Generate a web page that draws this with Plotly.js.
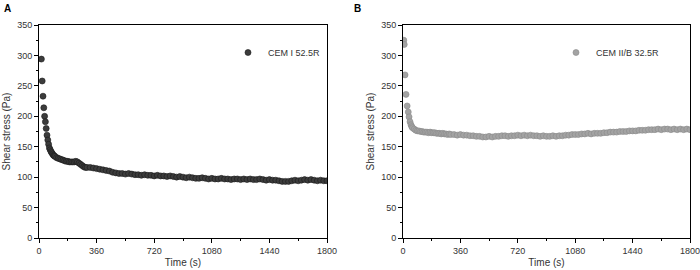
<!DOCTYPE html>
<html>
<head>
<meta charset="utf-8">
<script src="https://cdn.plot.ly/plotly-3.0.1.min.js"></script>
<style>html,body{margin:0;padding:0;background:#fff}#chart{width:700px;height:270px}</style>
</head>
<body>
<div id="chart"></div>
<script>
// ---- data ----
const timeA = [15,20,25,30,35,40,45,50,55,60,65,70,75,80,85,90,95,100,
  110,120,130,140,150,160,170,180,190,200,210,220,230,240,250,260,270,280,290,
  300,320,340,360,380,400,420,440,460,480,500,520,540,560,580,600,620,640,660,680,
  700,720,740,760,780,800,820,840,860,880,900,920,940,960,980,1000,1020,1040,1060,1080,
  1100,1120,1140,1160,1180,1200,1220,1240,1260,1280,1300,1320,1340,1360,1380,1400,
  1420,1440,1460,1480,1500,1520,1540,1560,1580,1600,1620,1640,1660,1680,1700,1720,
  1740,1760,1780,1800];
const stressA = [294,258,233,214,200,191,180,169,161,154,148,145,142,140,138,136,135,134,
  132,131,130,129,128,127,126,126,125,125,125,125,126,125,123,121,119,117,116,
  116,116,115,114,113,112,111,110,108,107,106,106,105,106,105,104,104,103,104,103,
  103,102,103,102,102,101,102,101,100,101,100,99,100,99,98,98,99,98,97,98,
  97,97,98,97,97,96,97,97,96,97,96,97,96,96,97,96,
  95,96,95,95,94,93,93,93,94,95,94,95,96,95,96,95,
  94,95,94,94];

const timeB = [5,8,13,19,26,33,38,44,50,55,60,70,80,90,100,110,120,130,140,150,160,170,180,190,200,
  210,220,230,240,250,260,270,280,290,300,320,340,360,380,400,420,440,460,480,500,520,540,560,580,
  600,620,640,660,680,700,720,740,760,780,800,820,840,860,880,900,920,940,960,980,1000,
  1020,1040,1060,1080,1100,1120,1140,1160,1180,1200,1220,1240,1260,1280,1300,1320,1340,1360,1380,1400,
  1420,1440,1460,1480,1500,1520,1540,1560,1580,1600,1620,1640,1660,1680,1700,1720,1740,1760,1780,1800];
const stressB = [325,318,268,236,217,207,199,191,186,183,181,179,177,176,176,175,175,174,174,174,173,174,173,173,173,
  172,172,172,171,172,171,171,170,171,170,170,169,170,169,169,168,168,167,167,166,166,167,166,167,
  167,168,168,167,168,168,169,168,169,168,169,168,168,167,168,167,167,168,167,168,168,
  169,169,170,170,170,171,171,172,171,172,172,172,173,173,174,174,174,175,175,175,
  176,176,176,177,177,177,178,178,178,179,178,179,179,178,179,178,179,178,179,178];

const xTicks = [0,360,720,1080,1440,1800];
const yTicks = [0,50,100,150,200,250,300,350];
const nameA = 'CEM I 52.5R';
const nameB = 'CEM II/B 32.5R';

// ---- chart ----
const font = {family: 'Liberation Sans, Arial, sans-serif', size: 9, color: '#333'};
function xax(domain, anchor) {
  return {domain: domain, anchor: anchor, range: [0, 1800], tickvals: xTicks,
    ticks: 'outside', ticklen: 4, tickwidth: 1, tickcolor: '#000',
    ticklabeloverflow: 'allow',
    minor: {dtick: 180, ticks: 'outside', ticklen: 2, tickcolor: '#000', showgrid: false},
    showline: true, linecolor: '#000', linewidth: 1, mirror: true,
    showgrid: false, zeroline: false, tickfont: font,
    title: {text: 'Time (s)', font: {family: font.family, size: 10, color: '#333'}, standoff: 4}};
}
function yax(domain, anchor) {
  return {domain: domain, anchor: anchor, range: [0, 350], tickvals: yTicks,
    ticks: 'outside', ticklen: 4, tickwidth: 1, tickcolor: '#000',
    ticklabeloverflow: 'allow',
    minor: {dtick: 25, ticks: 'outside', ticklen: 2, tickcolor: '#000', showgrid: false},
    showline: true, linecolor: '#000', linewidth: 1, mirror: true,
    showgrid: false, zeroline: false, tickfont: font,
    title: {text: 'Shear stress (Pa)', font: {family: font.family, size: 10, color: '#333'}, standoff: 4}};
}
const yDom = [32/270, 245/270];
const traces = [
  {x: timeA, y: stressA, type: 'scatter', mode: 'markers', name: nameA,
   xaxis: 'x', yaxis: 'y', legend: 'legend',
   marker: {size: 6, color: '#3c3c3c', line: {color: '#1a1a1a', width: 0.6}}},
  {x: timeB, y: stressB, type: 'scatter', mode: 'markers', name: nameB,
   xaxis: 'x2', yaxis: 'y2', legend: 'legend2',
   marker: {size: 6, color: '#a3a3a3', line: {color: '#8a8a8a', width: 0.6}}}
];
const layout = {
  width: 700, height: 270,
  margin: {l: 0, r: 0, t: 0, b: 0},
  paper_bgcolor: '#fff', plot_bgcolor: '#fff',
  font: font,
  xaxis: xax([39/700, 327/700], 'y'),
  yaxis: yax(yDom, 'x'),
  xaxis2: xax([403/700, 690/700], 'y2'),
  yaxis2: yax(yDom, 'x2'),
  legend: {x: 228/700, y: 1 - 38/270, xanchor: 'left', yanchor: 'top',
    bgcolor: 'rgba(0,0,0,0)', font: font, itemwidth: 30},
  legend2: {x: 556/700, y: 1 - 38/270, xanchor: 'left', yanchor: 'top',
    bgcolor: 'rgba(0,0,0,0)', font: font, itemwidth: 30},
  annotations: [
    {text: '<b>A</b>', xref: 'paper', yref: 'paper', x: 2/700, y: 1 - 1/270,
     xanchor: 'left', yanchor: 'top', showarrow: false,
     font: {family: font.family, size: 10, color: '#000'}},
    {text: '<b>B</b>', xref: 'paper', yref: 'paper', x: 352/700, y: 1 - 1/270,
     xanchor: 'left', yanchor: 'top', showarrow: false,
     font: {family: font.family, size: 10, color: '#000'}}
  ],
  showlegend: true
};
Plotly.newPlot('chart', traces, layout, {displayModeBar: false, staticPlot: true});
</script>
</body>
</html>
